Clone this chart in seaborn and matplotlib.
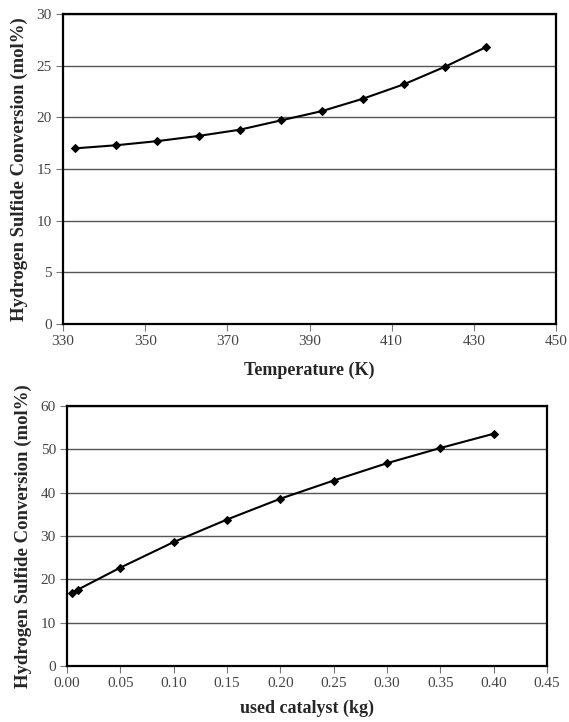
"""
H2S conversion vs temperature and vs catalyst mass
"""

import matplotlib
matplotlib.use("Agg")
import matplotlib.pyplot as plt
import seaborn as sns
import pandas as pd

# Top panel: conversion vs temperature
temperature = [333, 343, 353, 363, 373, 383, 393, 403, 413, 423, 433]
conv_temp = [17.0, 17.3, 17.7, 18.2, 18.8, 19.7, 20.6, 21.8, 23.2, 24.9, 26.8]

# Bottom panel: conversion vs used catalyst
catalyst = [0.005, 0.01, 0.05, 0.10, 0.15, 0.20, 0.25, 0.30, 0.35, 0.40]
conv_cat = [16.9, 17.6, 22.7, 28.6, 33.8, 38.6, 42.8, 46.8, 50.3, 53.6]

temp_ticks = [330, 350, 370, 390, 410, 430, 450]
temp_yticks = [0, 5, 10, 15, 20, 25, 30]
cat_ticks = [0.00, 0.05, 0.10, 0.15, 0.20, 0.25, 0.30, 0.35, 0.40, 0.45]
cat_yticks = [0, 10, 20, 30, 40, 50, 60]

ylabel = 'Hydrogen Sulfide Conversion (mol%)'

sns.set_style('ticks')
plt.rcParams['font.family'] = ['Liberation Serif', 'DejaVu Serif']

W, H = 569, 722
fig = plt.figure(figsize=(W / 100, H / 100), dpi=100)

# axes positions in pixels: left, top, right, bottom
ax1 = fig.add_axes([63 / W, 1 - 324 / H, (556 - 63) / W, (324 - 14) / H])
ax2 = fig.add_axes([67 / W, 1 - 666 / H, (547 - 67) / W, (666 - 406) / H])


def style_axis(ax, xticks, yticks, xfmt):
    ax.set_xlim(xticks[0], xticks[-1])
    ax.set_ylim(yticks[0], yticks[-1])
    ax.set_xticks(xticks)
    ax.set_xticklabels([xfmt.format(t) for t in xticks])
    ax.set_yticks(yticks)
    ax.tick_params(axis='both', direction='out', length=5, width=0.8,
                   color='#777777', labelsize=11, labelcolor='#444444', pad=3)
    ax.yaxis.grid(True, color='#555555', linewidth=1.0)
    ax.set_axisbelow(True)
    for sp in ax.spines.values():
        sp.set_visible(True)
        sp.set_color('black')
        sp.set_linewidth(1.6)


df1 = pd.DataFrame({'T': temperature, 'conv': conv_temp})
sns.lineplot(data=df1, x='T', y='conv', ax=ax1, color='black', linewidth=1.5,
             marker='D', markersize=4.5, markeredgecolor='black')
style_axis(ax1, temp_ticks, temp_yticks, '{:d}')
ax1.set_xlabel('Temperature (K)', fontsize=13, fontweight='bold', labelpad=10)
ax1.set_ylabel(ylabel, fontsize=13.5, fontweight='bold', labelpad=6)

df2 = pd.DataFrame({'cat': catalyst, 'conv': conv_cat})
sns.lineplot(data=df2, x='cat', y='conv', ax=ax2, color='black', linewidth=1.5,
             marker='D', markersize=4.5, markeredgecolor='black')
style_axis(ax2, cat_ticks, cat_yticks, '{:.2f}')
ax2.set_xlabel('used catalyst (kg)', fontsize=13, fontweight='bold', labelpad=7)
ax2.set_ylabel(ylabel, fontsize=13.5, fontweight='bold', labelpad=6)

fig.savefig('out.png', dpi=100)
